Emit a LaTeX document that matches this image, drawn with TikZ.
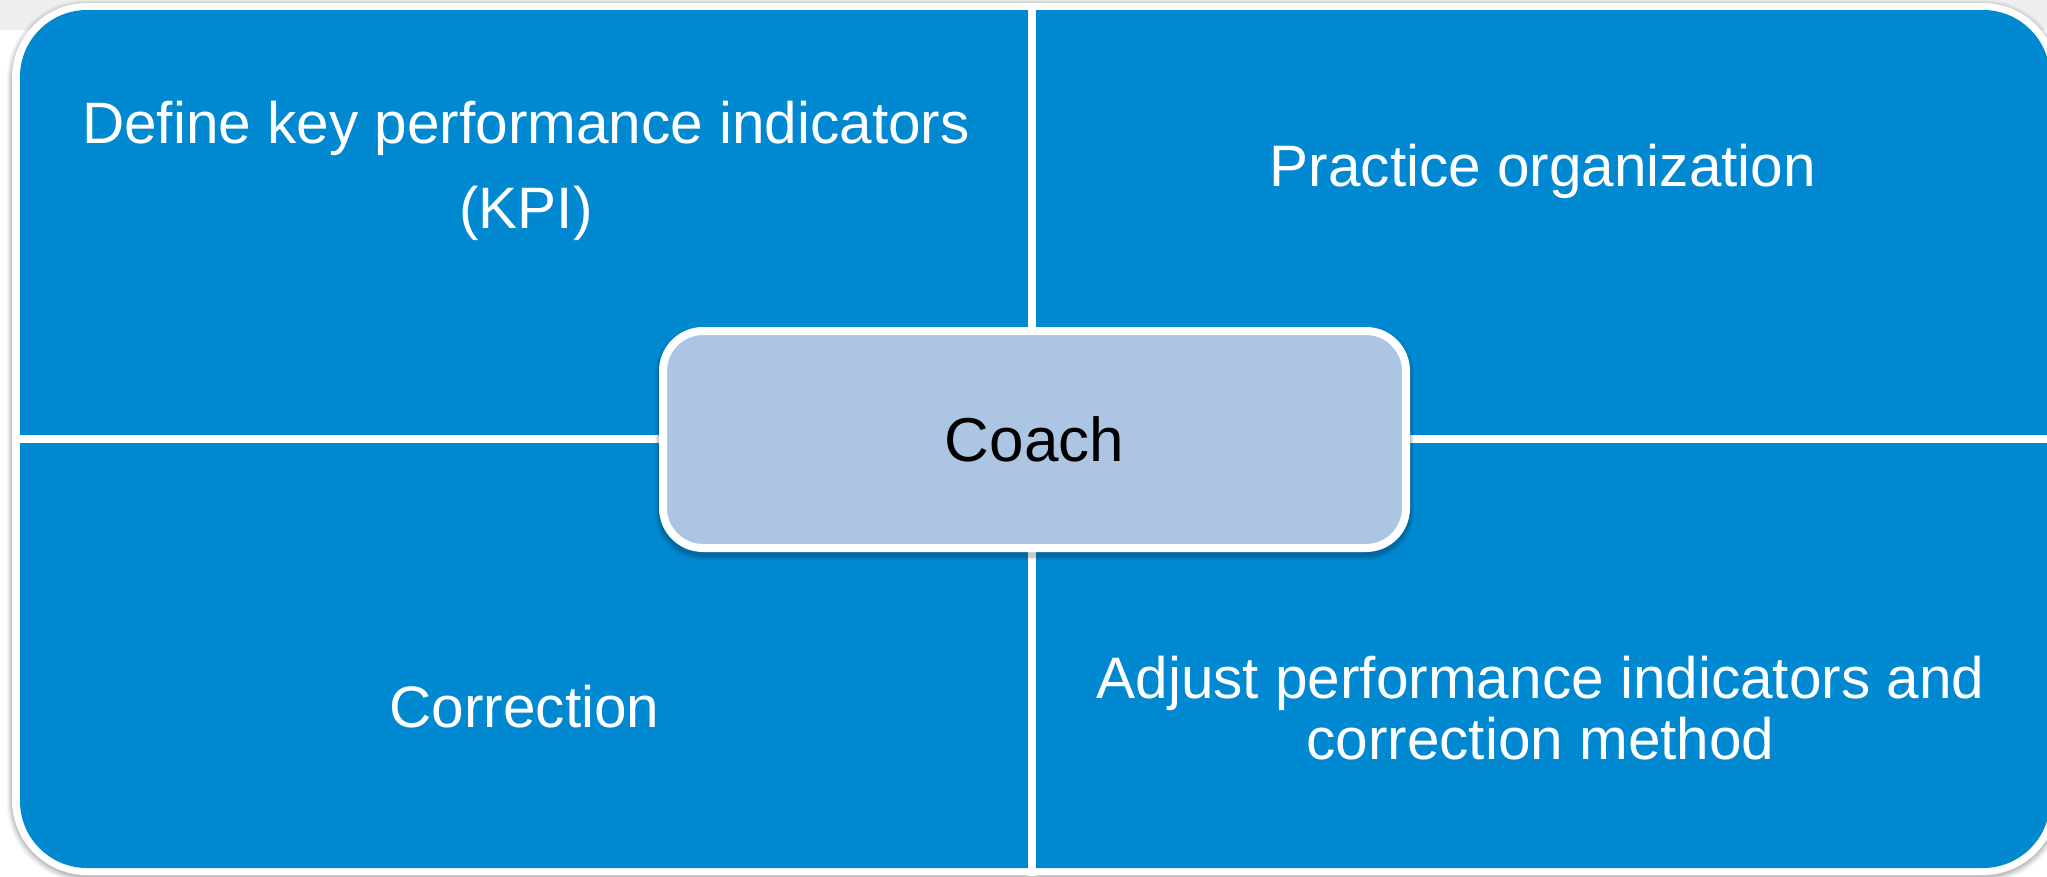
\documentclass[tikz,border=0pt]{standalone}
\usepackage{fontspec}
\setmainfont{Liberation Sans}
\definecolor{quadblue}{HTML}{0088D1}
\definecolor{coachfill}{HTML}{ABC5E3}
\definecolor{topband}{HTML}{EFEFEF}

\begin{document}
\begin{tikzpicture}[x=1pt,y=-1pt,
  quadtext/.style={text=white, align=center, anchor=base, inner sep=0pt},
  quadfont/.style={font=\fontsize{58.5}{#1}\selectfont},
  divider/.style={draw=white, line width=8pt},
  coachbox/.style={draw=white, fill=coachfill, line width=8pt, rounded corners=40pt,
    minimum width=743pt, minimum height=217pt, inner sep=0pt,
    font=\fontsize{62}{70}\selectfont, text=black},
  softshadow/.style={fill=black, opacity=#1}]
\useasboundingbox (0,0) rectangle (2047,876);

% page background
\fill[white] (0,0) rectangle (2047,876);
\fill[topband] (0,0) rectangle (2047,30);

% soft shadow around the frame
\foreach \s/\op in {5/0.03,4/0.04,3/0.05,2/0.06,1/0.08}
  \fill[softshadow=\op, rounded corners=78pt] (12-\s,5-\s) rectangle (2058+\s,877+\s);

% white frame and blue panel
\fill[white, rounded corners=75pt] (12,3) rectangle (2058,875);
\fill[quadblue, rounded corners=67pt] (20,10) rectangle (2050,868);

% dividers between the four quadrants
\coordinate (vtop) at (1032,10);
\coordinate (vbot) at (1032,876);
\coordinate (hleft) at (20,439);
\coordinate (hright) at (2050,439);
\draw[divider] (vtop) -- (vbot);
\draw[divider] (hleft) -- (hright);

% quadrant labels (anchored on the baseline of their last line)
\node[quadtext, quadfont=85] (kpi) at (526,228)
  {Define key performance indicators\\(KPI)};
\node[quadtext, quadfont=70] (practice) at (1543,186) {Practice organization};
\node[quadtext, quadfont=70] (correction) at (524.5,727) {Correction};
\node[quadtext, quadfont=61] (adjust) at (1540.5,759)
  {Adjust performance indicators and\\correction method};

% shadow under the central box
\foreach \s/\op in {4/0.04,3/0.05,2/0.06,1/0.08}
  \fill[softshadow=\op, rounded corners=46pt] (659-\s,331-\s) rectangle (1410+\s,556+\s);

% central box
\node[coachbox] (coach) at (1034.5,439.5) {Coach};
\end{tikzpicture}
\end{document}
